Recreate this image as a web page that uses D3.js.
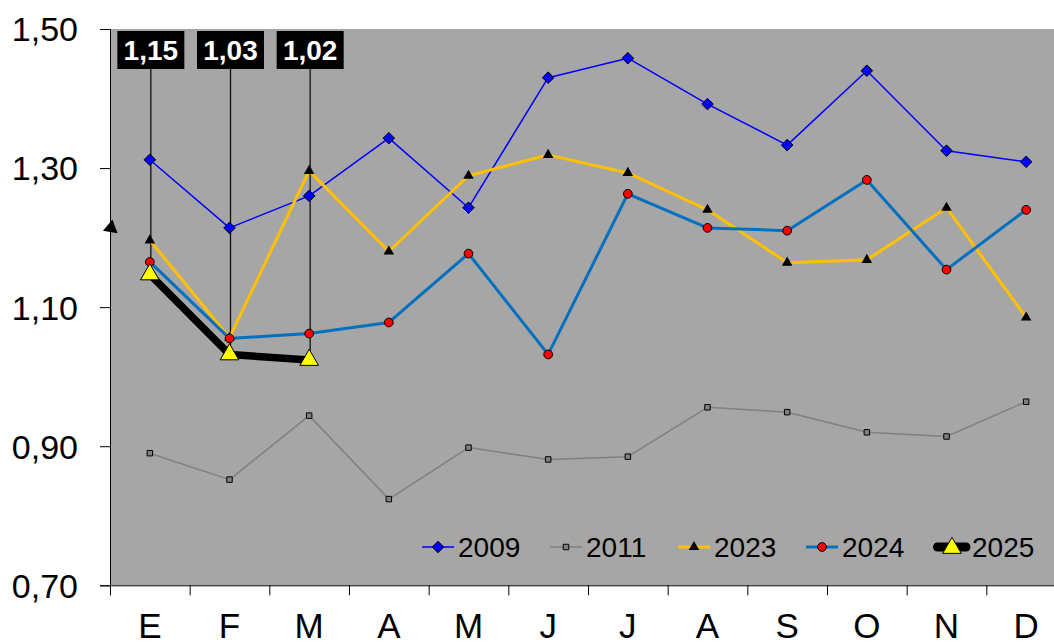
<!DOCTYPE html>
<html>
<head>
<meta charset="utf-8">
<script src="https://cdn.jsdelivr.net/npm/d3@7"></script>
<style>
  body { margin: 0; background: #fff; }
  svg { display: block; font-family: "Liberation Sans", Arial, sans-serif; }
</style>
</head>
<body>
<div id="chart"></div>
<script>
// data
let months = ["E", "F", "M", "A", "M", "J", "J", "A", "S", "O", "N", "D"]
let yTicks = [0.70, 0.90, 1.10, 1.30, 1.50]
let s2009 = [1.312, 1.214, 1.260, 1.343, 1.243, 1.430, 1.458, 1.392, 1.333, 1.440, 1.325, 1.309]
let s2011 = [0.890, 0.852, 0.944, 0.824, 0.898, 0.881, 0.885, 0.956, 0.949, 0.920, 0.914, 0.964]
let s2023 = [1.196, 1.056, 1.296, 1.180, 1.289, 1.319, 1.293, 1.240, 1.164, 1.168, 1.243, 1.085]
let s2024 = [1.165, 1.055, 1.062, 1.078, 1.177, 1.032, 1.263, 1.214, 1.210, 1.283, 1.154, 1.240]
let s2025 = [1.147, 1.032, 1.024]
let edgeMarker = 1.214   // lone triangle sitting on the left axis

let W = 1054, H = 644
let pLeft = 110, pTop = 29, pRight = 1066, pBottom = 585.3

let svg = d3.select("#chart").append("svg")
    .attr("width", W)
    .attr("height", H)

let x = d3.scaleBand().domain(d3.range(12)).range([pLeft, pRight]).padding(0)
let xb = d3.scaleLinear().domain([0, 12]).range([pLeft, pRight])
let y = d3.scaleLinear().domain([0.70, 1.50]).range([pBottom, pTop])
let cx = i => x(i) + x.bandwidth() / 2
let fmt = v => d3.format(".2f")(v).replace(".", ",")

// plot background
svg.append("rect")
    .attr("x", pLeft).attr("y", pTop)
    .attr("width", pRight - pLeft).attr("height", pBottom - pTop)
    .style("fill", "#a6a6a6")

// axes
let ya = svg.append("g")
    .attr("transform", "translate(" + pLeft + ",0)")
    .call(d3.axisLeft(y).tickValues(yTicks).tickSize(10).tickPadding(22).tickFormat(fmt))
ya.selectAll("text").style("font-size", "34px").style("fill", "#000").attr("dy", "0.35em")
ya.selectAll("line, path").style("stroke", "#000")

let xa = svg.append("g")
    .attr("transform", "translate(0," + pBottom + ")")
    .call(d3.axisBottom(xb).tickValues(d3.range(13)).tickSize(10).tickFormat(""))
xa.selectAll("line, path").style("stroke", "#000")

let xl = svg.append("g")
    .attr("transform", "translate(0," + pBottom + ")")
    .call(d3.axisBottom(x).tickSize(0).tickPadding(28).tickFormat(i => months[i]))
xl.select("path").remove()
xl.selectAll("text").style("font-size", "35px").style("fill", "#000")

let line = d3.line().x((d, i) => cx(i)).y(d => y(d))

let sym = (type, size) => d3.symbol().type(type).size(size)()

let series = [
    {name: "2009", data: s2009, color: "#0000ff", width: 1.5, marker: d3.symbolDiamond2, msize: 85, mfill: "#0000ff"},
    {name: "2011", data: s2011, color: "#808080", width: 1.5, marker: d3.symbolSquare, msize: 30, mfill: "#808080"},
    {name: "2023", data: s2023, color: "#ffc000", width: 3, marker: d3.symbolTriangle, msize: 48, mfill: "#000"},
    {name: "2024", data: s2024, color: "#0070c0", width: 3, marker: d3.symbolCircle, msize: 60, mfill: "#ff0000"},
    {name: "2025", data: s2025, color: "#000", width: 7.5, marker: d3.symbolTriangle, msize: 150, mfill: "#ffff00"}
]

// leader lines for the 2025 labels (drawn first, behind series)
svg.append("g").selectAll("line")
    .data(s2025)
    .enter().append("line")
    .attr("x1", (d, i) => cx(i) + 1).attr("x2", (d, i) => cx(i) + 1)
    .attr("y1", 66).attr("y2", d => y(d))
    .style("stroke", "#111").style("stroke-width", 1.3)

for (let s of series) {
    let g = svg.append("g")
    g.append("path")
        .datum(s.data)
        .attr("d", line)
        .style("fill", "none")
        .style("stroke", s.color)
        .style("stroke-width", s.width)
        .style("stroke-linejoin", "round")
    g.selectAll("path.m")
        .data(s.data)
        .enter().append("path")
        .attr("class", "m")
        .attr("d", sym(s.marker, s.msize))
        .attr("transform", (d, i) => "translate(" + cx(i) + "," + y(d) + ")")
        .style("fill", s.mfill)
        .style("stroke", "#000")
        .style("stroke-width", s.name == "2023" ? 0 : 1)
}

// stray triangle on the y axis
svg.append("path")
    .attr("d", sym(d3.symbolTriangle, 95))
    .attr("transform", "translate(" + (pLeft + 1) + "," + y(edgeMarker) + ") rotate(10)")
    .style("fill", "#000")

// 2025 value labels
let lab = svg.append("g").selectAll("g")
    .data(s2025)
    .enter().append("g")
    .attr("transform", (d, i) => "translate(" + (cx(i) + 1) + ",31)")
lab.append("rect")
    .attr("x", -33.5).attr("y", 0)
    .attr("width", 67).attr("height", 38)
    .style("fill", "#000")
lab.append("text")
    .attr("y", 19).attr("dy", "0.36em")
    .attr("text-anchor", "middle")
    .style("font-size", "28px").style("font-weight", "bold")
    .style("fill", "#fff")
    .text(d => fmt(d))

// legend
let big = d => d.name == "2025"
let leg = svg.append("g").selectAll("g")
    .data(series)
    .enter().append("g")
    .attr("transform", (d, i) => "translate(" + (422 + i * 128) + ",547)")
leg.append("line")
    .attr("x1", d => big(d) ? 3.5 : 0).attr("x2", d => big(d) ? 32 : 32)
    .style("stroke", d => d.color)
    .style("stroke-width", d => big(d) ? 9 : d.width)
    .style("stroke-linecap", d => big(d) ? "round" : "butt")
leg.append("path")
    .attr("d", d => sym(d.marker, d.msize))
    .attr("transform", d => "translate(" + (big(d) ? 18 : 16) + "," + (big(d) ? 1 : 0) + ")")
    .style("fill", d => d.mfill)
    .style("stroke", "#000")
    .style("stroke-width", d => d.name == "2023" ? 0 : 1)
leg.append("text")
    .attr("x", d => big(d) ? 38 : 36)
    .attr("dy", "0.36em")
    .style("font-size", "28px")
    .style("fill", "#000")
    .text(d => d.name)
</script>
</body>
</html>
